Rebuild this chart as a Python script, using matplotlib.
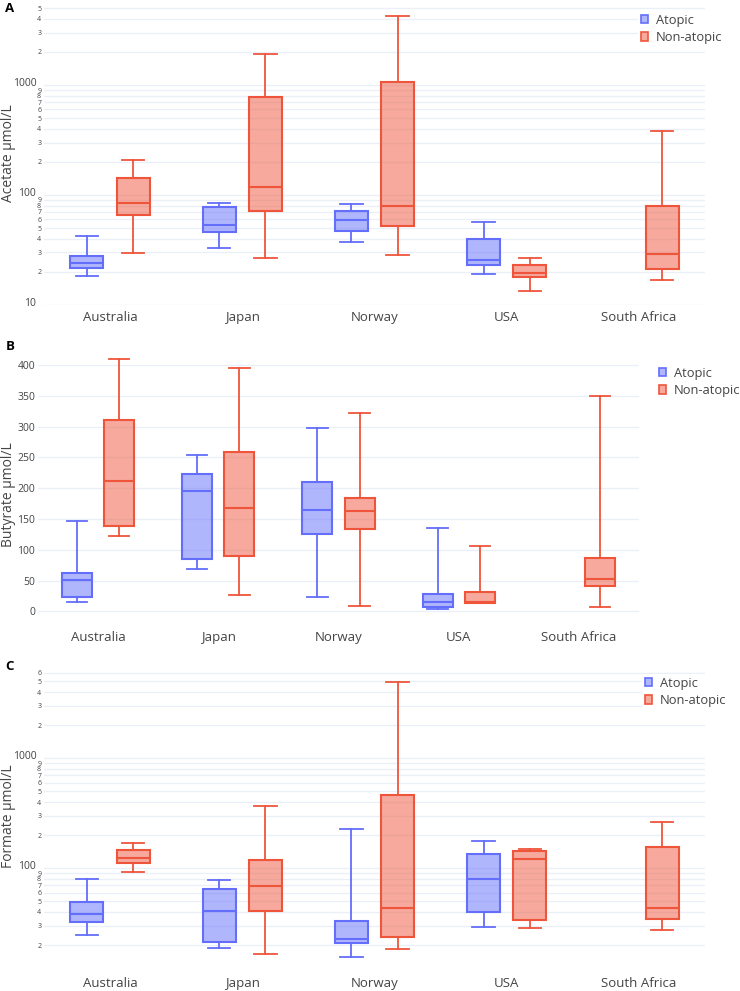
import numpy as np
import matplotlib.pyplot as plt
import matplotlib.transforms as mtransforms
from matplotlib.colors import to_rgba
from matplotlib.patches import Patch
from matplotlib.ticker import NullLocator

plt.rcParams['font.family'] = ['Open Sans', 'DejaVu Sans']

countries = ["Australia", "Japan", "Norway", "USA", "South Africa"]
groups = ["Atopic", "Non-atopic"]
colors = ["#636EFA", "#EF553B"]

# (whisker low, q1, median, q3, whisker high) in umol/L
# no atopic group for South Africa
acetate_atopic = [(18.4, 21.7, 23.9, 27.7, 42), (32.7, 45.8, 53.4, 78.3, 84),
                  (37.2, 46.8, 59.3, 72, 82.8), (19.0, 23.2, 25.8, 39.5, 57), None]
acetate_nonatopic = [(29.9, 65.8, 84, 142, 209), (26.9, 71, 119, 783, 1914),
                     (28.7, 52.6, 80, 1072, 4268), (13.3, 18.1, 19.4, 23.1, 26.5),
                     (17.0, 21.2, 28.9, 80, 382)]
butyrate_atopic = [(15, 23, 50.8, 62.6, 147), (69.5, 85.6, 196, 223, 253.5),
                   (23, 125.7, 164, 210, 297.3), (4.3, 7.5, 15, 28.3, 136), None]
butyrate_nonatopic = [(122.5, 139, 211.8, 310.7, 410.7), (26, 90.4, 168, 259, 395.7),
                      (8, 133, 163, 184.5, 322.5), (13, 13.4, 15, 31.6, 106.4),
                      (7.5, 41.2, 52.4, 86, 349.8)]
formate_atopic = [(24.8, 32.3, 38.2, 49.4, 79.4), (18.7, 21.4, 40.4, 64.9, 78.3),
                  (15.5, 20.8, 22.9, 33.2, 229), (29.1, 39.8, 80.5, 135, 175), None]
formate_nonatopic = [(93, 112.5, 123, 146, 171), (16.6, 40.4, 69, 119.8, 366),
                     (18.6, 23.6, 43.6, 463, 4965), (28.5, 33.7, 120.7, 143, 150.7),
                     (27.5, 34.4, 43.6, 155, 262)]

TXT = '#444444'
GRID = '#EBF0F8'
W, H = 740, 991


def draw_boxes(ax, series):
    allvals = []
    for k, (data, color) in enumerate(zip(series, colors)):
        stats, pos = [], []
        for i, s in enumerate(data):
            if s is None:
                continue
            lo, q1, med, q3, hi = s
            stats.append(dict(whislo=lo, q1=q1, med=med, q3=q3, whishi=hi))
            pos.append(i + (k - 0.5) * 0.35)
            allvals += [lo, hi]
        ax.bxp(stats, positions=pos, widths=0.25, capwidths=0.17,
               patch_artist=True, showfliers=False, manage_ticks=False,
               boxprops=dict(facecolor=to_rgba(color, 0.5), edgecolor=color, linewidth=1.5),
               medianprops=dict(color=color, linewidth=1.5),
               whiskerprops=dict(color=color, linewidth=1.3),
               capprops=dict(color=color, linewidth=1.3))
    return min(allvals), max(allvals)


def log_ticks(ax, lo, hi):
    ticks, labels, major = [], [], []
    for e in range(int(np.floor(np.log10(lo))), int(np.ceil(np.log10(hi))) + 1):
        for d in range(1, 10):
            v = d * 10 ** e
            if lo <= v <= hi:
                ticks.append(v)
                labels.append(str(v) if d == 1 else str(d))
                major.append(d == 1)
    ax.set_yticks(ticks, labels)
    ax.yaxis.set_minor_locator(NullLocator())
    shift = mtransforms.ScaledTranslation(-0.05, 0.03, ax.figure.dpi_scale_trans)
    for t, m in zip(ax.get_yticklabels(), major):
        if m:
            t.set_fontsize(7.5)
            t.set_transform(t.get_transform() + shift)
        else:
            t.set_fontsize(5)


def style(ax):
    for sp in ax.spines.values():
        sp.set_visible(False)
    ax.grid(axis='y', color=GRID, linewidth=1)
    ax.set_axisbelow(True)
    ax.set_xlim(-0.5, 4.5)
    ax.set_xticks(range(len(countries)), countries)
    ax.tick_params(axis='x', length=0, pad=4, labelsize=9.5, labelcolor=TXT)
    ax.tick_params(axis='y', length=0, pad=2, labelsize=7.5, labelcolor=TXT)


def add_legend(ax, x, y):
    handles = [Patch(facecolor=to_rgba(c, 0.5), edgecolor=c, linewidth=1.2, label=g)
               for g, c in zip(groups, colors)]
    leg = ax.legend(handles=handles, loc='upper left', bbox_to_anchor=(x / W, 1 - y / H),
                    bbox_transform=ax.figure.transFigure, frameon=True, fancybox=False,
                    facecolor='white', edgecolor='none', framealpha=1, fontsize=9.3,
                    handlelength=0.6, handleheight=0.6, handletextpad=0.6,
                    labelspacing=0.35, borderpad=0.2, borderaxespad=0)
    for t in leg.get_texts():
        t.set_color(TXT)


fig = plt.figure(figsize=(W / 100, H / 100), dpi=100)

# panel A - acetate (log)
axA = fig.add_axes([44 / W, 1 - 305 / H, (705 - 44) / W, 303 / H])
lo, hi = draw_boxes(axA, [acetate_atopic, acetate_nonatopic])
axA.set_yscale('log')
pad = 0.05 * (np.log10(hi) - np.log10(lo))
axA.set_ylim(10 ** (np.log10(lo) - pad), 10 ** (np.log10(hi) + pad))
style(axA)
log_ticks(axA, *axA.get_ylim())
add_legend(axA, 638, 11)

# panel B - butyrate (linear)
axB = fig.add_axes([38 / W, 1 - 625 / H, (639 - 38) / W, 279 / H])
lo, hi = draw_boxes(axB, [butyrate_atopic, butyrate_nonatopic])
pad = 0.05 * (hi - lo)
axB.set_ylim(lo - pad - 0.3 * pad, hi + pad)
style(axB)
axB.set_yticks(np.arange(0, 401, 50))
add_legend(axB, 656, 364)

# panel C - formate (log)
axC = fig.add_axes([44 / W, 1 - 971 / H, (705 - 44) / W, 303 / H])
lo, hi = draw_boxes(axC, [formate_atopic, formate_nonatopic])
axC.set_yscale('log')
pad = 0.05 * (np.log10(hi) - np.log10(lo))
axC.set_ylim(10 ** (np.log10(lo) - pad), 10 ** (np.log10(hi) + pad))
style(axC)
log_ticks(axC, *axC.get_ylim())
add_legend(axC, 642, 674)

for lab, y in [("A", 8), ("B", 346), ("C", 667)]:
    fig.text(10 / W, 1 - y / H, lab, fontsize=9.5, fontweight='bold', ha='center', va='center',
             color='black')
for lab, y in [("Acetate µmol/L", 153), ("Butyrate µmol/L", 495), ("Formate µmol/L", 816)]:
    fig.text(8.5 / W, 1 - y / H, lab, rotation=90, fontsize=10, ha='center', va='center', color=TXT)

fig.savefig("out.png", dpi=100)
